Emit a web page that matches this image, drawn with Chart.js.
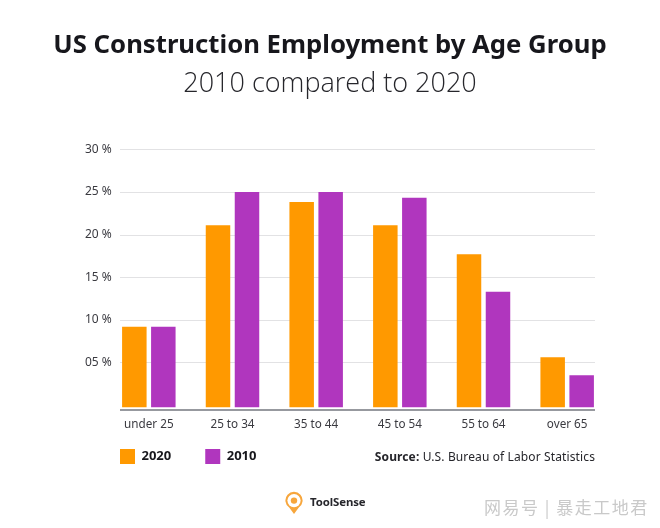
<!DOCTYPE html>
<html><head><meta charset="utf-8">
<style>
html,body{margin:0;padding:0;background:#fff;width:660px;height:528px;overflow:hidden}
#wrap{position:relative;width:660px;height:528px}
canvas{position:absolute;left:0;top:0}
.t{position:absolute;white-space:nowrap;font-family:"Noto Sans",sans-serif;color:#26262b}
</style>
<script src="https://cdn.jsdelivr.net/npm/chart.js@4"></script>
</head><body>
<div id="wrap">
<canvas id="c" width="660" height="528"></canvas>
<div class="t" style="right:65px;top:448px;font-size:12px;letter-spacing:.12px"><b>Source:</b> U.S. Bureau of Labor Statistics</div>
<svg style="position:absolute;left:284px;top:491px" width="20" height="24" viewBox="0 0 20 24">
<path d="M10 23 L5.2 16.5 A8.6 8.6 0 1 1 14.8 16.5 Z" fill="#f7a63c"/>
<circle cx="10" cy="9.6" r="6.6" fill="#fff"/><circle cx="10" cy="9.6" r="3.2" fill="#f7a63c"/></svg>
<div class="t" style="left:310px;top:494px;font-size:11.4px;font-weight:700;letter-spacing:-.1px">ToolSense</div>
<div class="t" style="left:484px;top:494px;font-family:'Noto Sans CJK SC';font-size:17px;color:#c9c9c9;letter-spacing:1.5px">网易号 | 暴走工地君</div>
</div>
<script>
const categories = ["under 25","25 to 34","35 to 44","45 to 54","55 to 64","over 65"];
const values2020 = [9.2,21.1,23.8,21.1,17.7,5.6];
const values2010 = [9.2,25.0,25.0,24.3,13.3,3.5];
const yTickValues = [5,10,15,20,25,30];
const yTickLabels = ["05 %","10 %","15 %","20 %","25 %","30 %"];
const seriesNames = ["2020","2010"];
const seriesColors = ["#FF9900","#B036BE"];
const font = '"Noto Sans",sans-serif';

const rulePlugin = {
  id:'rules',
  afterLayout(chart){
    const lg = chart.legend;
    lg.left = 86; lg.right = 660; lg.top = 415; lg.bottom = 528;
    chart.boxes.forEach(b=>{
      if (b.options && typeof b.options.text==='string'){ b.left=0; b.right=660; b.width=660; }
    });
  },
  beforeDatasetsDraw(chart){
    const {ctx,scales:{y}} = chart;
    ctx.save();
    ctx.strokeStyle='#e2e2e4'; ctx.lineWidth=1;
    yTickValues.forEach(v=>{
      const p=Math.round(y.getPixelForValue(v))+.5;
      ctx.beginPath();ctx.moveTo(120,p);ctx.lineTo(595,p);ctx.stroke();
    });
    ctx.strokeStyle='#74777f'; ctx.lineWidth=1.5;
    const b=y.bottom;
    ctx.beginPath();ctx.moveTo(120,b);ctx.lineTo(595,b);ctx.stroke();
    ctx.restore();
  }
};

new Chart(document.getElementById('c'),{
  type:'bar',
  data:{labels:categories,datasets:[
    {label:seriesNames[0],data:values2020,backgroundColor:seriesColors[0],base:-0.25,categoryPercentage:.693,barPercentage:.845},
    {label:seriesNames[1],data:values2010,backgroundColor:seriesColors[1],base:-0.25,categoryPercentage:.693,barPercentage:.845}
  ]},
  plugins:[rulePlugin],
  options:{
    responsive:false,animation:false,
    layout:{padding:{top:0,right:51,bottom:29,left:0}},
    plugins:{
      tooltip:{enabled:false},
      title:{display:true,text:'US Construction Employment by Age Group',color:'#17171c',
        font:{family:font,size:25.7,weight:'700'},padding:{top:30,bottom:7}},
      subtitle:{display:true,text:'2010 compared to 2020',color:'#26262b',
        font:{family:'"Open Sans",sans-serif',size:27,weight:'300'},padding:{top:0,bottom:49}},
      legend:{position:'bottom',align:'start',
        labels:{boxWidth:15,boxHeight:15,padding:34,color:'#17171c',font:{family:font,size:13,weight:'700'}}}
    },
    scales:{
      x:{grid:{display:false,drawTicks:false},border:{display:false},
        ticks:{color:'#3a3a40',font:{family:font,size:11.7},padding:8,maxRotation:0}},
      y:{min:-0.57,max:30,grid:{display:false,drawTicks:false},border:{display:false},
        afterFit(s){s.width=107},
        afterBuildTicks(s){s.ticks=yTickValues.map(v=>({value:v}))},
        ticks:{color:'#3a3a40',font:{family:font,size:12},mirror:true,padding:-22,
          callback(v){return yTickLabels[yTickValues.indexOf(v)]}}}
    }
  }
});
</script>
</body></html>
